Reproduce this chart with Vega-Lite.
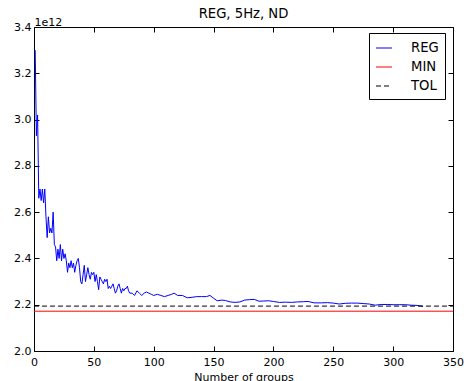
{
  "$schema": "https://vega.github.io/schema/vega-lite/v6.json",
  "width": 419,
  "height": 324,
  "autosize": "none",
  "padding": {"left": 34, "top": 27, "right": 11, "bottom": 30},
  "background": "white",
  "title": {"text": "REG, 5Hz, ND", "font": "DejaVu Sans", "fontSize": 13.2, "fontWeight": "normal", "color": "black", "baseline": "alphabetic", "offset": -15, "anchor": "middle"},
  "data": {"values": [
    {"n": 1, "value": 3.30e12, "series": "REG"},
    {"n": 2, "value": 2.93e12, "series": "REG"},
    {"n": 3, "value": 3.02e12, "series": "REG"},
    {"n": 4, "value": 2.66e12, "series": "REG"},
    {"n": 5, "value": 2.70e12, "series": "REG"},
    {"n": 6, "value": 2.65e12, "series": "REG"},
    {"n": 7, "value": 2.70e12, "series": "REG"},
    {"n": 8, "value": 2.64e12, "series": "REG"},
    {"n": 9, "value": 2.70e12, "series": "REG"},
    {"n": 10, "value": 2.58e12, "series": "REG"},
    {"n": 11, "value": 2.49e12, "series": "REG"},
    {"n": 12, "value": 2.58e12, "series": "REG"},
    {"n": 13, "value": 2.51e12, "series": "REG"},
    {"n": 14, "value": 2.53e12, "series": "REG"},
    {"n": 15, "value": 2.51e12, "series": "REG"},
    {"n": 16, "value": 2.60e12, "series": "REG"},
    {"n": 17, "value": 2.46e12, "series": "REG"},
    {"n": 18, "value": 2.45e12, "series": "REG"},
    {"n": 19, "value": 2.39e12, "series": "REG"},
    {"n": 20, "value": 2.44e12, "series": "REG"},
    {"n": 21, "value": 2.40e12, "series": "REG"},
    {"n": 22, "value": 2.46e12, "series": "REG"},
    {"n": 23, "value": 2.39e12, "series": "REG"},
    {"n": 24, "value": 2.44e12, "series": "REG"},
    {"n": 25, "value": 2.40e12, "series": "REG"},
    {"n": 26, "value": 2.42e12, "series": "REG"},
    {"n": 27, "value": 2.39e12, "series": "REG"},
    {"n": 28, "value": 2.34e12, "series": "REG"},
    {"n": 29, "value": 2.38e12, "series": "REG"},
    {"n": 30, "value": 2.36e12, "series": "REG"},
    {"n": 31, "value": 2.39e12, "series": "REG"},
    {"n": 32, "value": 2.36e12, "series": "REG"},
    {"n": 33, "value": 2.38e12, "series": "REG"},
    {"n": 34, "value": 2.34e12, "series": "REG"},
    {"n": 35, "value": 2.37e12, "series": "REG"},
    {"n": 36, "value": 2.39e12, "series": "REG"},
    {"n": 37, "value": 2.40e12, "series": "REG"},
    {"n": 38, "value": 2.36e12, "series": "REG"},
    {"n": 39, "value": 2.30e12, "series": "REG"},
    {"n": 40, "value": 2.29e12, "series": "REG"},
    {"n": 41, "value": 2.33e12, "series": "REG"},
    {"n": 42, "value": 2.37e12, "series": "REG"},
    {"n": 43, "value": 2.30e12, "series": "REG"},
    {"n": 44, "value": 2.33e12, "series": "REG"},
    {"n": 45, "value": 2.36e12, "series": "REG"},
    {"n": 46, "value": 2.33e12, "series": "REG"},
    {"n": 47, "value": 2.31e12, "series": "REG"},
    {"n": 48, "value": 2.34e12, "series": "REG"},
    {"n": 49, "value": 2.33e12, "series": "REG"},
    {"n": 50, "value": 2.34e12, "series": "REG"},
    {"n": 51, "value": 2.30e12, "series": "REG"},
    {"n": 52, "value": 2.33e12, "series": "REG"},
    {"n": 53, "value": 2.30e12, "series": "REG"},
    {"n": 54, "value": 2.265e12, "series": "REG"},
    {"n": 55, "value": 2.32e12, "series": "REG"},
    {"n": 56, "value": 2.31e12, "series": "REG"},
    {"n": 57, "value": 2.30e12, "series": "REG"},
    {"n": 58, "value": 2.29e12, "series": "REG"},
    {"n": 59, "value": 2.31e12, "series": "REG"},
    {"n": 60, "value": 2.30e12, "series": "REG"},
    {"n": 61, "value": 2.31e12, "series": "REG"},
    {"n": 62, "value": 2.27e12, "series": "REG"},
    {"n": 63, "value": 2.28e12, "series": "REG"},
    {"n": 64, "value": 2.27e12, "series": "REG"},
    {"n": 65, "value": 2.28e12, "series": "REG"},
    {"n": 66, "value": 2.29e12, "series": "REG"},
    {"n": 67, "value": 2.27e12, "series": "REG"},
    {"n": 68, "value": 2.25e12, "series": "REG"},
    {"n": 69, "value": 2.26e12, "series": "REG"},
    {"n": 70, "value": 2.28e12, "series": "REG"},
    {"n": 71, "value": 2.29e12, "series": "REG"},
    {"n": 72, "value": 2.27e12, "series": "REG"},
    {"n": 73, "value": 2.25e12, "series": "REG"},
    {"n": 74, "value": 2.27e12, "series": "REG"},
    {"n": 75, "value": 2.26e12, "series": "REG"},
    {"n": 76, "value": 2.27e12, "series": "REG"},
    {"n": 77, "value": 2.27e12, "series": "REG"},
    {"n": 78, "value": 2.28e12, "series": "REG"},
    {"n": 79, "value": 2.26e12, "series": "REG"},
    {"n": 80, "value": 2.25e12, "series": "REG"},
    {"n": 82, "value": 2.25e12, "series": "REG"},
    {"n": 84, "value": 2.24e12, "series": "REG"},
    {"n": 86, "value": 2.26e12, "series": "REG"},
    {"n": 88, "value": 2.25e12, "series": "REG"},
    {"n": 90, "value": 2.24e12, "series": "REG"},
    {"n": 92, "value": 2.25e12, "series": "REG"},
    {"n": 94, "value": 2.255e12, "series": "REG"},
    {"n": 96, "value": 2.25e12, "series": "REG"},
    {"n": 98, "value": 2.245e12, "series": "REG"},
    {"n": 100, "value": 2.24e12, "series": "REG"},
    {"n": 103, "value": 2.245e12, "series": "REG"},
    {"n": 106, "value": 2.24e12, "series": "REG"},
    {"n": 109, "value": 2.235e12, "series": "REG"},
    {"n": 112, "value": 2.24e12, "series": "REG"},
    {"n": 115, "value": 2.245e12, "series": "REG"},
    {"n": 117, "value": 2.25e12, "series": "REG"},
    {"n": 120, "value": 2.24e12, "series": "REG"},
    {"n": 124, "value": 2.24e12, "series": "REG"},
    {"n": 128, "value": 2.23e12, "series": "REG"},
    {"n": 132, "value": 2.232e12, "series": "REG"},
    {"n": 136, "value": 2.235e12, "series": "REG"},
    {"n": 140, "value": 2.235e12, "series": "REG"},
    {"n": 144, "value": 2.235e12, "series": "REG"},
    {"n": 147, "value": 2.24e12, "series": "REG"},
    {"n": 150, "value": 2.228e12, "series": "REG"},
    {"n": 153, "value": 2.217e12, "series": "REG"},
    {"n": 157, "value": 2.22e12, "series": "REG"},
    {"n": 160, "value": 2.218e12, "series": "REG"},
    {"n": 164, "value": 2.212e12, "series": "REG"},
    {"n": 168, "value": 2.21e12, "series": "REG"},
    {"n": 172, "value": 2.212e12, "series": "REG"},
    {"n": 176, "value": 2.22e12, "series": "REG"},
    {"n": 180, "value": 2.222e12, "series": "REG"},
    {"n": 184, "value": 2.223e12, "series": "REG"},
    {"n": 188, "value": 2.215e12, "series": "REG"},
    {"n": 192, "value": 2.216e12, "series": "REG"},
    {"n": 196, "value": 2.217e12, "series": "REG"},
    {"n": 200, "value": 2.214e12, "series": "REG"},
    {"n": 205, "value": 2.21e12, "series": "REG"},
    {"n": 210, "value": 2.211e12, "series": "REG"},
    {"n": 215, "value": 2.21e12, "series": "REG"},
    {"n": 220, "value": 2.212e12, "series": "REG"},
    {"n": 225, "value": 2.213e12, "series": "REG"},
    {"n": 229, "value": 2.214e12, "series": "REG"},
    {"n": 234, "value": 2.208e12, "series": "REG"},
    {"n": 240, "value": 2.208e12, "series": "REG"},
    {"n": 245, "value": 2.209e12, "series": "REG"},
    {"n": 250, "value": 2.207e12, "series": "REG"},
    {"n": 255, "value": 2.203e12, "series": "REG"},
    {"n": 260, "value": 2.206e12, "series": "REG"},
    {"n": 265, "value": 2.207e12, "series": "REG"},
    {"n": 270, "value": 2.207e12, "series": "REG"},
    {"n": 275, "value": 2.205e12, "series": "REG"},
    {"n": 280, "value": 2.203e12, "series": "REG"},
    {"n": 285, "value": 2.198e12, "series": "REG"},
    {"n": 290, "value": 2.201e12, "series": "REG"},
    {"n": 295, "value": 2.201e12, "series": "REG"},
    {"n": 300, "value": 2.2e12, "series": "REG"},
    {"n": 305, "value": 2.2e12, "series": "REG"},
    {"n": 310, "value": 2.2e12, "series": "REG"},
    {"n": 315, "value": 2.198e12, "series": "REG"},
    {"n": 320, "value": 2.197e12, "series": "REG"},
    {"n": 325, "value": 2.193e12, "series": "REG"},
    {"n": 0, "value": 2.172e12, "series": "MIN"},
    {"n": 350, "value": 2.172e12, "series": "MIN"},
    {"n": 0, "value": 2.194e12, "series": "TOL"},
    {"n": 350, "value": 2.194e12, "series": "TOL"}
  ]},
  "layer": [
    {
      "transform": [{"filter": "datum.series === 'REG'"}],
      "mark": {"type": "line", "strokeWidth": 1, "clip": true},
      "encoding": {
        "x": {"field": "n", "type": "quantitative",
          "scale": {"domain": [0, 350], "nice": false, "zero": false},
          "axis": {"orient": "bottom", "values": [0, 50, 100, 150, 200, 250, 300, 350], "tickSize": -5, "labelPadding": 10, "title": "Number of groups", "titlePadding": 4, "titleFontSize": 11, "titleFontWeight": "normal", "labelFlush": false}},
        "y": {"field": "value", "type": "quantitative",
          "scale": {"domain": [2.0e12, 3.4e12], "nice": false, "zero": false},
          "axis": {"orient": "left", "values": [2.0e12, 2.2e12, 2.4e12, 2.6e12, 2.8e12, 3.0e12, 3.2e12, 3.4e12], "labelExpr": "format(datum.value / 1e12, '.1f')", "tickSize": -5, "labelPadding": 8, "title": "1e12", "titleAngle": 0, "titleX": 0, "titleY": -2, "titleAlign": "left", "titleBaseline": "alphabetic", "titleFontSize": 11, "titleFontWeight": "normal", "labelFlush": false}},
        "color": {"field": "series", "type": "nominal",
          "scale": {"domain": ["REG", "MIN", "TOL"], "range": ["#0000ff", "#ff0000", "#000000"]},
          "legend": {"title": null, "orient": "none", "legendX": 335, "legendY": 6, "symbolStrokeWidth": 1.2,
            "encode": {"symbols": {"update": {
              "stroke": {"scale": "color", "field": "value"},
              "strokeDash": {"signal": "datum.value === 'TOL' ? [5, 3] : [1, 0]"}}}}}}
      }
    },
    {
      "transform": [{"filter": "datum.series === 'MIN'"}],
      "mark": {"type": "line", "strokeWidth": 1},
      "encoding": {
        "x": {"field": "n", "type": "quantitative",
          "axis": {"orient": "top", "values": [0, 50, 100, 150, 200, 250, 300, 350], "tickSize": -5, "labels": false, "title": null}},
        "y": {"field": "value", "type": "quantitative",
          "axis": {"orient": "right", "values": [2.0e12, 2.2e12, 2.4e12, 2.6e12, 2.8e12, 3.0e12, 3.2e12, 3.4e12], "tickSize": -5, "labels": false, "title": null}},
        "color": {"field": "series", "type": "nominal"}
      }
    },
    {
      "transform": [{"filter": "datum.series === 'TOL'"}],
      "mark": {"type": "line", "strokeWidth": 1, "strokeDash": [5, 3]},
      "encoding": {
        "x": {"field": "n", "type": "quantitative", "axis": null},
        "y": {"field": "value", "type": "quantitative", "axis": null},
        "color": {"field": "series", "type": "nominal"}
      }
    }
  ],
  "resolve": {"axis": {"x": "independent", "y": "independent"}},
  "config": {
    "font": "DejaVu Sans",
    "view": {"stroke": null},
    "axis": {"grid": false, "domainColor": "#000000", "domainWidth": 1, "tickColor": "#000000", "tickWidth": 1, "labelColor": "#000000", "labelFont": "DejaVu Sans", "labelFontSize": 11, "titleColor": "#000000", "titleFont": "DejaVu Sans"},
    "legend": {"symbolType": "stroke", "symbolSize": 256, "labelFont": "DejaVu Sans", "labelFontSize": 13.2, "labelColor": "#000000", "labelOffset": 18, "padding": 6, "rowPadding": 3, "strokeColor": "#000000", "fillColor": "#ffffff", "cornerRadius": 0}
  }
}
